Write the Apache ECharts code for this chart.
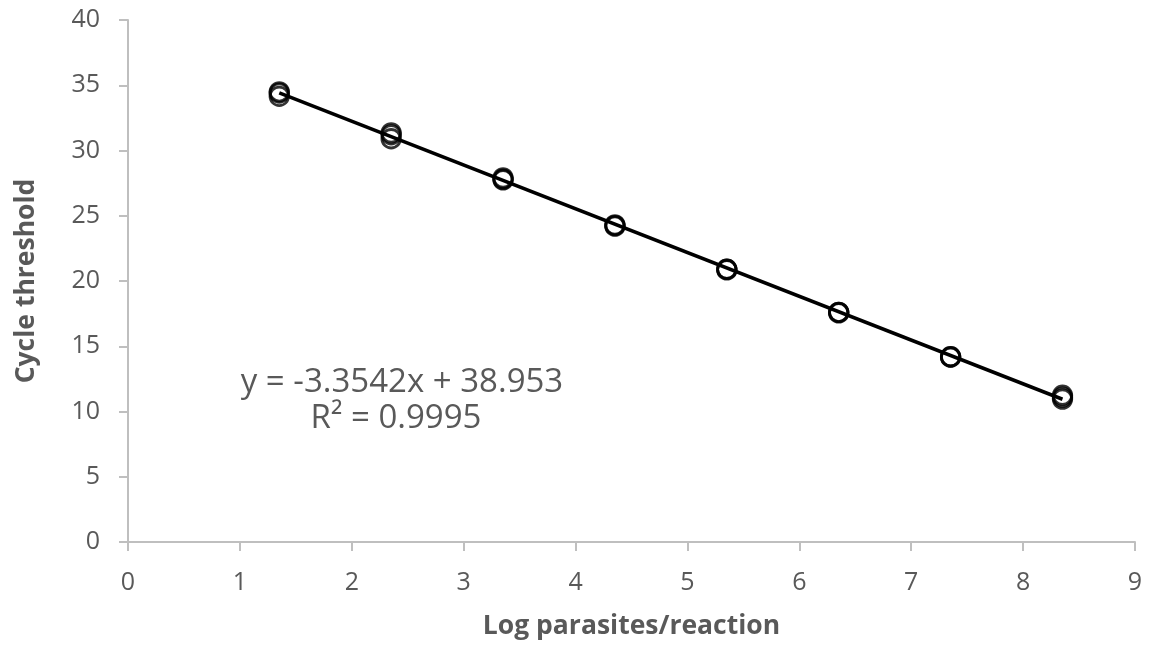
<!DOCTYPE html>
<html>
<head>
<meta charset="utf-8">
<script src="https://cdn.jsdelivr.net/npm/echarts@6/dist/echarts.min.js"></script>
<style>
  html, body { margin: 0; padding: 0; background: #ffffff; }
  #chart { width: 1151px; height: 645px; }
</style>
</head>
<body>
<div id="chart"></div>
<script>
// Standard curve: log parasites per reaction vs. cycle threshold (triplicates)
const logParasites = [1.352, 2.352, 3.352, 4.352, 5.352, 6.352, 7.352, 8.352];
const ctRep1 = [34.50, 31.35, 27.90, 24.30, 20.90, 17.60, 14.20, 11.25];
const ctRep2 = [34.40, 31.20, 27.80, 24.25, 20.90, 17.60, 14.20, 11.10];
const ctRep3 = [34.15, 30.90, 27.75, 24.20, 20.85, 17.55, 14.15, 10.95];

// Linear fit reported on the chart
const slope = -3.3542;
const intercept = 38.953;
const rSquared = 0.9995;

const xTicks = [0, 1, 2, 3, 4, 5, 6, 7, 8, 9];
const yTicks = [0, 5, 10, 15, 20, 25, 30, 35, 40];

const points = [];
[ctRep1, ctRep2, ctRep3].forEach(rep => {
  rep.forEach((ct, i) => points.push([logParasites[i], ct]));
});

const xFirst = logParasites[0];
const xLast = logParasites[logParasites.length - 1];
const fitLine = [
  [xFirst, slope * xFirst + intercept],
  [xLast, slope * xLast + intercept]
];

const FONT = '"Open Sans", "Liberation Sans", sans-serif';
const GREY_TEXT = '#595959';
const AXIS_GREY = '#bfbfbf';

const chart = echarts.init(document.getElementById('chart'), null, { renderer: 'canvas' });
chart.setOption({
  animation: false,
  backgroundColor: '#ffffff',
  grid: { left: 128, right: 16, top: 20, bottom: 103, containLabel: false },
  xAxis: {
    type: 'value',
    min: xTicks[0],
    max: xTicks[xTicks.length - 1],
    interval: 1,
    name: 'Log parasites/reaction',
    nameLocation: 'middle',
    nameGap: 71,
    nameTextStyle: { fontFamily: FONT, fontSize: 26.5, fontWeight: 'bold', color: GREY_TEXT },
    axisLine: { show: true, lineStyle: { color: AXIS_GREY, width: 2 } },
    axisTick: { show: true, length: 9, lineStyle: { color: AXIS_GREY, width: 2 } },
    axisLabel: { fontFamily: FONT, fontSize: 25, color: GREY_TEXT, margin: 28 },
    splitLine: { show: false }
  },
  yAxis: {
    type: 'value',
    min: yTicks[0],
    max: yTicks[yTicks.length - 1],
    interval: 5,
    name: 'Cycle threshold',
    nameLocation: 'middle',
    nameGap: 88,
    nameRotate: 90,
    nameTextStyle: { fontFamily: FONT, fontSize: 26.5, fontWeight: 'bold', color: GREY_TEXT },
    axisLine: { show: true, lineStyle: { color: AXIS_GREY, width: 2 } },
    axisTick: { show: true, length: 9, lineStyle: { color: AXIS_GREY, width: 2 } },
    axisLabel: { fontFamily: FONT, fontSize: 25, color: GREY_TEXT, margin: 28 },
    splitLine: { show: false }
  },
  series: [
    {
      type: 'line',
      data: fitLine,
      symbol: 'none',
      lineStyle: { color: '#000000', width: 3.5 },
      z: 3
    },
    {
      type: 'scatter',
      data: points,
      symbol: 'circle',
      symbolSize: 18.5,
      itemStyle: { color: 'rgba(255,255,255,0)', borderColor: '#000000', borderWidth: 2.8 },
      z: 4
    }
  ],
  graphic: [
    {
      type: 'text',
      x: 402,
      y: 383,
      style: {
        text: 'y = ' + slope + 'x + ' + intercept,
        fontFamily: FONT,
        fontSize: 33,
        fill: GREY_TEXT,
        align: 'center',
        verticalAlign: 'middle'
      }
    },
    {
      type: 'text',
      x: 396,
      y: 419,
      style: {
        text: 'R² = ' + rSquared,
        fontFamily: FONT,
        fontSize: 33,
        fill: GREY_TEXT,
        align: 'center',
        verticalAlign: 'middle'
      }
    }
  ]
});
</script>
</body>
</html>
